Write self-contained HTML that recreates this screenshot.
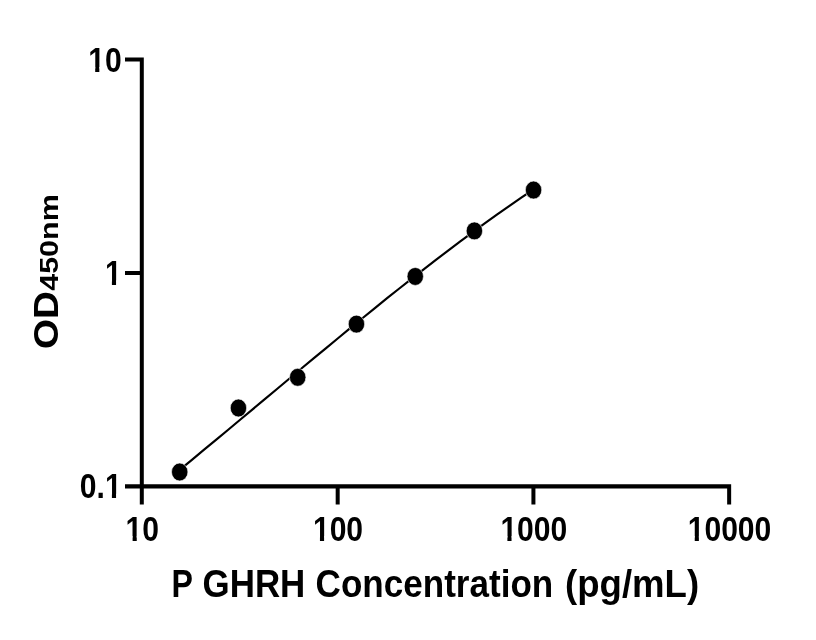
<!DOCTYPE html>
<html lang="en"><head><meta charset="utf-8"><title>P GHRH standard curve</title>
<style>html,body{margin:0;padding:0;background:#fff;overflow:hidden}svg{display:block}text{font-family:"Liberation Sans",sans-serif;font-weight:bold;fill:#000}</style></head><body>
<svg width="816" height="640" viewBox="0 0 816 640">
<rect width="816" height="640" fill="#fff"/>
<path d="M139.8 57.6h4v446.8h-4zM125 484.3h606.15v4.1h-606.15zM125 57.6h17v4h-17zM125 270.9h17v4h-17zM335.68 484.3h4v20.1h-4zM531.42 484.3h4v20.1h-4zM727.15 484.3h4v20.1h-4z" fill="#000"/>
<path d="M179.7 469.8 L191.9 459.8 L204.1 449.7 L216.3 439.6 L228.5 429.5 L240.7 419.3 L252.9 409.1 L265.1 398.9 L277.3 388.7 L289.5 378.5 L301.7 368.3 L313.9 358.2 L326.1 348.1 L338.3 338.0 L350.5 327.9 L362.7 318.0 L374.9 308.1 L387.1 298.2 L399.3 288.5 L411.5 278.9 L423.7 269.3 L435.9 259.9 L448.1 250.6 L460.3 241.4 L472.5 232.3 L484.7 223.4 L496.9 214.7 L509.1 206.1 L521.3 197.7 L533.5 189.5" fill="none" stroke="#000" stroke-width="2.15"/>
<ellipse cx="179.7" cy="472.0" rx="8.2" ry="8.95" fill="#000" stroke="#fff" stroke-width="0.6"/>
<ellipse cx="238.45" cy="408.0" rx="8.2" ry="8.95" fill="#000" stroke="#fff" stroke-width="0.6"/>
<ellipse cx="297.7" cy="377.3" rx="8.2" ry="8.95" fill="#000" stroke="#fff" stroke-width="0.6"/>
<ellipse cx="356.45" cy="324.1" rx="8.2" ry="8.95" fill="#000" stroke="#fff" stroke-width="0.6"/>
<ellipse cx="415.25" cy="276.45" rx="8.2" ry="8.95" fill="#000" stroke="#fff" stroke-width="0.6"/>
<ellipse cx="474.4" cy="230.9" rx="8.2" ry="8.95" fill="#000" stroke="#fff" stroke-width="0.6"/>
<ellipse cx="533.55" cy="190.05" rx="8.2" ry="8.95" fill="#000" stroke="#fff" stroke-width="0.6"/>
<g transform="translate(142.3 540.6) scale(0.8735 1)"><text x="-19.13" y="0" font-size="34.4">10</text><rect x="-18.10" y="-4.47" width="7.00" height="5.50" fill="#fff"/><rect x="-6.35" y="-4.47" width="6.35" height="5.50" fill="#fff"/></g>
<g transform="translate(338.0 540.6) scale(0.8735 1)"><text x="-28.70" y="0" font-size="34.4">100</text><rect x="-27.67" y="-4.47" width="7.00" height="5.50" fill="#fff"/><rect x="-15.92" y="-4.47" width="6.35" height="5.50" fill="#fff"/></g>
<g transform="translate(533.8 540.6) scale(0.8735 1)"><text x="-38.27" y="0" font-size="34.4">1000</text><rect x="-37.23" y="-4.47" width="7.00" height="5.50" fill="#fff"/><rect x="-25.49" y="-4.47" width="6.35" height="5.50" fill="#fff"/></g>
<g transform="translate(729.5 540.6) scale(0.8735 1)"><text x="-47.83" y="0" font-size="34.4">10000</text><rect x="-46.80" y="-4.47" width="7.00" height="5.50" fill="#fff"/><rect x="-35.05" y="-4.47" width="6.35" height="5.50" fill="#fff"/></g>
<g transform="translate(121.6 71.5) scale(0.8735 1)"><text x="-38.27" y="0" font-size="34.4">10</text><rect x="-37.23" y="-4.47" width="7.00" height="5.50" fill="#fff"/><rect x="-25.49" y="-4.47" width="6.35" height="5.50" fill="#fff"/></g>
<g transform="translate(121.6 284.9) scale(0.8735 1)"><text x="-19.13" y="0" font-size="34.4">1</text><rect x="-18.10" y="-4.47" width="7.00" height="5.50" fill="#fff"/><rect x="-6.35" y="-4.47" width="6.35" height="5.50" fill="#fff"/></g>
<g transform="translate(121.6 498.3) scale(0.8735 1)"><text x="-47.82" y="0" font-size="34.4">0.1</text><rect x="-18.10" y="-4.47" width="7.00" height="5.50" fill="#fff"/><rect x="-6.35" y="-4.47" width="6.35" height="5.50" fill="#fff"/></g>
<text y="596.6" font-size="38.4"><tspan x="171.6" textLength="20.84" lengthAdjust="spacingAndGlyphs">P</tspan> <tspan x="202.6" textLength="102.73" lengthAdjust="spacingAndGlyphs">GHRH</tspan> <tspan x="315.6" textLength="237.64" lengthAdjust="spacingAndGlyphs">Concentration</tspan> <tspan x="565.0" textLength="134.11" lengthAdjust="spacingAndGlyphs">(pg/mL)</tspan></text>
<text transform="translate(58.3 349.0) rotate(-90) scale(1 0.909)" font-size="38.6">OD<tspan x="58.2" font-size="28.35" textLength="96.62" lengthAdjust="spacingAndGlyphs">450nm</tspan></text>
</svg></body></html>
